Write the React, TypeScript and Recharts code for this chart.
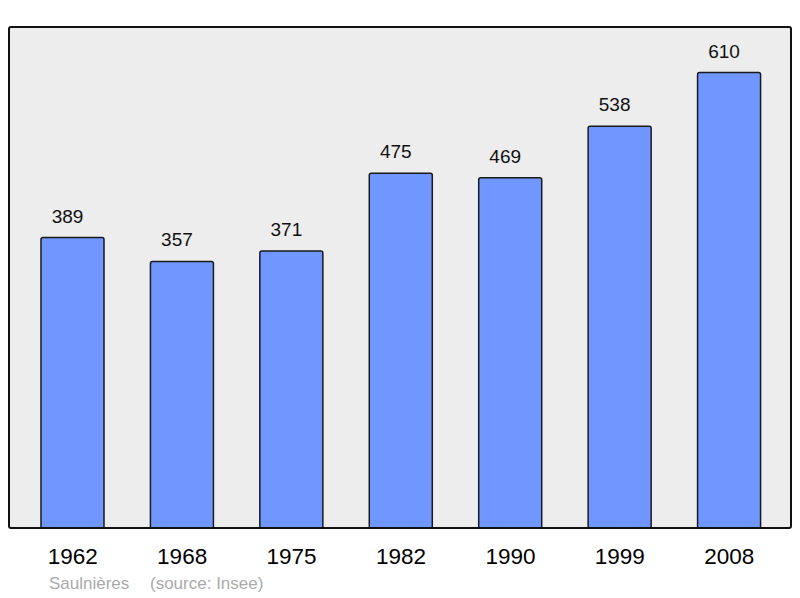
import React from 'react'
import { BarChart, Bar, XAxis, YAxis, CartesianGrid, LabelList } from 'recharts'

const years = ['1962', '1968', '1975', '1982', '1990', '1999', '2008']
const population = [389, 357, 371, 475, 469, 538, 610]

const data = years.map((year, i) => ({ year, population: population[i] }))

const font = '"Liberation Sans", Arial, sans-serif'

export default function App() {
  return (
    <div style={{ position: 'absolute', left: 0, top: 0, width: 800, height: 598, background: '#fff', fontFamily: font }}>
      <BarChart width={800} height={598} data={data} margin={{ top: 27, right: 9, left: 9, bottom: 30 }}>
        <CartesianGrid fill="#ededed" horizontal={false} vertical={false} />
        <YAxis hide domain={[0, 671]} />
        <XAxis
          dataKey="year"
          axisLine={false}
          tickLine={false}
          height={40}
          tickMargin={14}
          padding={{ left: 9, right: 7 }}
          tick={{ fontSize: 22.5, fill: '#000', fontFamily: font }}
        />
        <Bar
          dataKey="population"
          fill="#7096ff"
          stroke="#1a1a1a"
          strokeWidth={1.5}
          barSize={63}
          radius={[2, 2, 0, 0]}
          isAnimationActive={false}
        >
          <LabelList
            dataKey="population"
            position="top"
            offset={15}
            dx={-5}
            style={{ fontSize: 19, fill: '#111', fontFamily: font }}
          />
        </Bar>
      </BarChart>
      <div
        style={{
          position: 'absolute',
          left: 8,
          top: 26,
          width: 780,
          height: 499,
          border: '2px solid #111',
          borderRadius: 3,
          pointerEvents: 'none',
        }}
      />
      <div style={{ position: 'absolute', left: 49, top: 574, fontSize: 17, color: '#aaaaaa', whiteSpace: 'pre' }}>
        Saulnières
      </div>
      <div style={{ position: 'absolute', left: 150, top: 574, fontSize: 17, color: '#aaaaaa', whiteSpace: 'pre' }}>
        (source: Insee)
      </div>
    </div>
  )
}
